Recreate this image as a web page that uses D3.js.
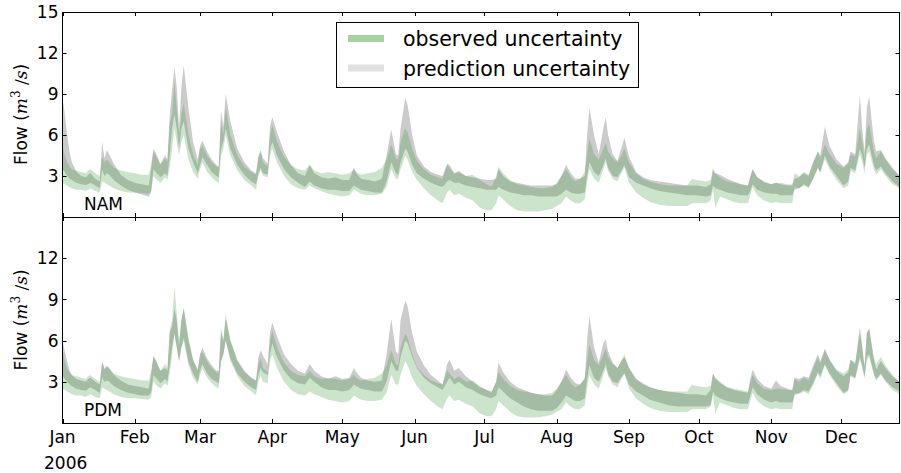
<!DOCTYPE html>
<html>
<head>
<meta charset="utf-8">
<script src="https://cdn.jsdelivr.net/npm/d3@7/dist/d3.min.js"></script>
<style>
  html, body { margin: 0; padding: 0; background: #fff; }
  svg { display: block; font-family: "DejaVu Sans", sans-serif; }
</style>
</head>
<body>
<svg id="chart" width="901" height="473"></svg>
<script>
// Day offsets from 1 Jan 2006 at which the bands are sampled
const days = [0,1,2,3,4,6,8,10,11,12,14,16,17,18,19,20,22,25,28,31,34,37,38,39,40,42,44,45,46,47,48,49,50,51,52,54,56,58,59,60,62,64,66,67,68,69,70,72,75,78,81,83,84,85,86,88,89,90,92,95,98,101,104,106,108,111,114,117,120,123,125,126,128,131,134,137,139,141,143,144,145,147,148,150,152,155,158,161,163,165,166,168,170,173,176,179,182,184,186,187,189,192,195,198,201,204,207,210,212,214,216,218,220,222,224,225,226,228,230,232,233,234,236,238,240,241,243,246,249,252,256,260,264,268,270,272,276,278,279,280,282,285,288,291,294,295,296,298,301,304,306,308,311,313,314,316,318,320,322,324,325,327,329,332,335,337,338,340,342,343,344,345,346,348,349,351,353,356,359];

// Observed flow uncertainty (shared by both models), m3/s
const obsLo = [2.5,2.4,2.3,2.2,2.1,2.0,2.0,1.9,2.0,2.1,1.9,1.8,2.6,2.5,2.4,2.3,2.1,1.9,1.8,1.8,1.75,1.7,1.9,3.0,2.8,2.5,2.9,2.7,3.6,5.0,6.5,5.5,4.5,5.5,6.0,4.2,3.3,2.8,3.5,4.0,3.3,2.9,2.6,2.5,4.5,5.0,6.0,4.5,3.4,2.7,2.3,2.0,3.0,3.4,3.0,2.9,4.5,5.0,4.0,3.0,2.4,2.1,2.0,2.3,2.1,1.9,1.7,1.6,1.5,1.6,2.0,1.9,1.7,1.6,1.6,1.7,2.2,3.5,2.8,2.8,3.5,4.5,4.2,3.3,2.7,2.1,1.6,1.2,1.0,1.8,2.0,1.6,1.7,1.4,1.2,0.7,0.5,0.5,1.0,1.6,1.3,0.8,0.5,0.4,0.4,0.4,0.5,0.6,0.8,1.0,1.5,1.2,1.0,1.0,1.3,2.5,3.5,2.8,2.5,3.5,4.0,3.4,2.8,2.6,3.3,3.6,2.5,1.8,1.4,1.1,0.9,0.8,0.8,0.8,1.0,1.0,1.0,1.2,2.0,0.7,1.5,1.3,1.1,1.0,1.0,1.6,2.2,1.6,1.2,1.0,1.1,1.0,1.0,1.0,2.2,2.1,2.3,2.1,2.8,3.6,3.2,4.2,3.5,2.7,2.1,2.3,3.4,3.2,4.6,4.0,3.2,4.6,4.8,3.5,3.1,3.5,3.0,2.4,2.1];
const obsHi = [5.2,4.5,4.0,3.7,3.5,3.4,3.3,3.2,3.4,3.5,3.2,3.0,4.4,4.0,4.2,4.0,3.6,3.4,3.3,3.2,3.1,3.1,3.8,4.8,4.5,3.8,4.3,4.0,6.8,7.5,9.9,8.0,6.0,7.5,8.3,6.0,4.6,3.8,5.0,5.2,4.5,4.0,3.7,3.6,7.0,6.0,8.0,6.0,4.5,3.7,3.3,3.1,4.3,4.7,4.0,3.7,6.0,6.7,5.5,4.4,3.8,3.5,3.4,3.8,3.4,3.2,3.3,3.2,3.1,3.2,3.5,3.3,3.1,3.2,3.3,3.6,4.2,5.3,4.3,4.2,5.5,6.5,6.2,5.0,4.1,3.5,3.1,2.9,2.8,3.8,3.6,3.2,3.4,3.0,3.1,2.7,2.4,2.2,3.0,3.7,3.2,2.7,2.4,2.3,2.2,2.1,2.1,2.2,2.5,3.0,3.5,2.9,2.6,2.8,3.3,4.5,5.7,4.6,4.2,5.0,5.4,4.8,4.3,4.0,4.6,5.0,4.0,3.2,2.8,2.6,2.4,2.3,2.3,2.3,2.8,2.7,2.6,2.7,3.6,3.2,2.9,2.6,2.5,2.4,2.3,3.0,3.5,2.9,2.5,2.4,2.5,2.5,2.4,2.4,3.2,3.0,3.3,3.1,4.0,4.8,4.3,5.3,4.6,3.9,3.6,3.9,4.6,4.4,6.5,5.5,4.2,6.5,6.8,4.8,4.3,4.8,4.2,3.5,3.0];

// NAM prediction uncertainty
const namLo = [3.5,3.3,3.0,2.8,2.7,2.5,2.4,2.35,2.4,2.5,2.3,2.1,3.5,3.0,3.2,3.1,2.7,2.3,2.0,1.8,1.65,1.5,1.8,3.5,3.3,2.9,3.2,3.0,4.5,6.5,7.5,6.5,5.0,6.5,7.0,5.0,4.0,3.2,3.8,4.4,3.8,3.3,3.0,2.9,5.0,5.5,6.5,5.0,3.8,3.1,2.6,2.4,3.2,3.6,3.2,3.1,5.0,5.5,4.5,3.5,2.9,2.5,2.2,2.6,2.3,2.1,2.0,2.0,1.9,1.9,2.3,2.2,2.0,1.9,1.8,1.8,2.6,4.0,3.2,3.1,4.0,5.0,4.8,3.8,3.2,2.8,2.5,2.3,2.2,2.6,2.7,2.5,2.5,2.3,2.2,2.1,2.0,2.0,2.0,2.2,2.0,1.8,1.7,1.6,1.6,1.5,1.5,1.5,1.5,1.7,2.0,1.8,1.7,1.7,1.8,3.0,4.0,3.3,3.0,3.8,4.3,3.6,3.0,2.9,3.5,3.8,2.9,2.5,2.3,2.1,1.9,1.8,1.7,1.6,1.6,1.6,1.5,1.6,2.3,2.1,2.0,1.8,1.7,1.6,1.6,1.9,2.4,2.0,1.8,1.7,1.7,1.6,1.6,1.6,2.0,2.1,2.4,2.2,2.8,3.6,3.3,4.5,3.7,3.0,2.3,2.6,3.6,3.4,5.0,4.5,3.6,5.0,5.3,3.8,3.4,3.7,3.2,2.6,2.2];
const namHi = [8.8,7.5,6.0,4.8,4.0,3.3,3.0,2.9,3.1,3.2,2.8,2.6,5.5,4.3,4.9,4.6,3.9,3.1,2.7,2.5,2.4,2.3,3.5,5.0,4.7,3.9,4.5,4.2,7.5,9.3,11.0,9.5,6.5,9.5,11.1,8.0,5.5,4.2,5.2,5.6,4.8,4.2,3.8,3.7,7.8,6.6,9.0,7.0,5.0,4.0,3.4,3.2,4.5,4.9,4.3,3.9,6.6,7.3,6.2,4.8,3.8,3.2,3.0,3.8,3.2,2.9,2.8,2.9,2.7,2.7,3.6,3.2,2.8,2.7,2.6,2.8,4.5,6.4,4.6,4.5,6.5,8.7,8.2,6.0,4.5,3.7,3.3,3.1,3.0,3.9,3.8,3.2,3.3,3.0,2.9,2.8,2.7,2.7,2.8,3.5,3.0,2.6,2.5,2.4,2.3,2.3,2.3,2.3,2.4,3.0,3.8,3.2,2.8,2.8,3.0,6.0,8.0,6.0,4.6,6.5,7.3,6.0,4.6,4.1,5.2,5.8,4.4,3.3,2.9,2.7,2.6,2.5,2.4,2.3,2.3,2.3,2.2,2.4,3.4,3.2,3.1,2.8,2.6,2.4,2.3,2.9,3.5,2.9,2.6,2.4,2.5,2.4,2.3,2.3,2.8,2.9,3.2,3.0,4.0,4.8,4.5,6.6,5.2,4.2,3.7,4.0,4.8,4.6,8.9,6.5,4.8,8.0,8.8,5.6,4.8,4.9,4.3,3.6,3.0];

// PDM prediction uncertainty
const pdmLo = [3.5,3.2,3.0,2.8,2.7,2.5,2.4,2.35,2.5,2.6,2.4,2.2,3.3,3.0,3.1,3.0,2.7,2.4,2.2,2.1,2.0,2.0,2.2,3.5,3.3,2.9,3.2,3.0,4.2,5.5,6.5,5.5,4.5,5.5,6.2,4.5,3.6,3.0,3.8,4.3,3.6,3.2,3.0,2.9,4.5,5.0,6.0,4.7,3.6,3.0,2.6,2.4,3.5,4.0,3.7,3.5,5.0,5.8,4.8,3.8,3.2,2.9,2.8,3.3,3.0,2.6,2.4,2.4,2.3,2.4,2.8,2.7,2.5,2.4,2.3,2.3,3.0,4.5,3.8,3.8,4.8,6.0,5.8,4.8,4.0,3.3,2.9,2.6,2.4,3.0,3.3,2.8,3.0,2.6,2.4,2.1,1.9,1.8,2.0,2.6,2.3,1.8,1.5,1.2,1.0,0.9,0.9,0.9,1.1,1.5,2.0,1.8,1.6,1.6,1.8,3.2,4.2,3.3,3.0,3.8,4.3,3.6,3.0,2.9,3.4,3.6,2.8,2.3,2.0,1.7,1.5,1.3,1.2,1.2,1.2,1.2,1.2,1.3,2.3,2.0,1.8,1.6,1.5,1.4,1.4,2.0,2.6,2.1,1.7,1.5,1.6,1.5,1.5,1.5,2.0,2.2,2.4,2.3,2.9,3.7,3.4,4.3,3.6,2.9,2.2,2.4,3.5,3.3,4.8,4.2,3.4,4.8,5.0,3.6,3.2,3.6,3.1,2.6,2.3];
const pdmHi = [6.0,5.2,4.5,3.8,3.5,3.2,3.1,3.0,3.2,3.3,3.0,2.8,4.5,3.9,4.1,4.0,3.5,3.1,2.8,2.7,2.6,2.5,3.5,4.9,4.6,3.8,4.0,3.8,6.6,7.0,8.3,7.5,5.6,7.5,8.4,6.2,4.6,3.9,5.0,5.5,4.7,4.2,3.8,3.8,6.6,6.0,7.6,6.0,4.6,3.8,3.3,3.1,4.8,5.3,4.9,4.3,6.6,7.3,6.3,5.0,4.3,3.8,3.6,4.3,3.8,3.4,3.2,3.4,3.2,3.3,4.0,3.7,3.3,3.1,3.0,3.1,5.0,7.6,5.2,5.0,7.5,8.9,8.5,6.5,5.2,4.2,3.5,3.1,2.8,4.3,4.6,3.8,4.0,3.4,3.0,2.6,2.4,2.3,3.0,4.4,3.7,3.0,2.6,2.4,2.2,2.1,2.0,2.0,2.4,3.0,3.9,3.3,2.9,2.8,3.2,6.0,7.8,5.5,4.4,5.8,6.1,5.2,4.4,4.0,4.6,4.8,4.0,3.2,2.9,2.6,2.4,2.3,2.2,2.1,2.1,2.1,2.0,2.4,3.6,3.3,3.0,2.6,2.4,2.3,2.2,3.2,3.9,3.2,2.7,2.5,3.1,2.7,2.5,2.4,3.3,3.2,3.4,3.3,4.2,5.0,4.5,5.4,4.6,3.8,3.4,3.7,4.6,4.3,7.0,5.6,4.0,6.6,6.9,4.6,3.9,4.5,4.0,3.4,3.0];

const monthLabels = ["Jan","Feb","Mar","Apr","May","Jun","Jul","Aug","Sep","Oct","Nov","Dec"];
const yTicksTop = [3, 6, 9, 12, 15];
const yTicksBottom = [3, 6, 9, 12];
const panelNames = ["NAM", "PDM"];
const legendLabels = ["observed uncertainty", "prediction uncertainty"];

const start = new Date(2006, 0, 1);
const dates = days.map(d => d3.timeDay.offset(start, d));

const svg = d3.select("#chart");
const left = 62.5, right = 899.5;
const x = d3.scaleTime()
  .domain([start, d3.timeDay.offset(start, 359)])
  .range([left, right]);

const panels = [
  { name: panelNames[0], lo: namLo, hi: namHi, top: 12, bottom: 217, ticks: yTicksTop },
  { name: panelNames[1], lo: pdmLo, hi: pdmHi, top: 217, bottom: 423, ticks: yTicksBottom }
];

const grayFill = "#cbcbcb";
const greenFill = "rgba(34,139,34,0.23)";
const monthTicks = d3.timeMonth.range(start, d3.timeDay.offset(start, 360));

panels.forEach((p, i) => {
  const y = d3.scaleLinear().domain([0, 15]).range([p.bottom, p.top]);
  const g = svg.append("g");

  const predArea = d3.area()
    .x((d, k) => x(dates[k]))
    .y0((d, k) => y(p.lo[k]))
    .y1((d, k) => y(p.hi[k]));
  const obsArea = d3.area()
    .x((d, k) => x(dates[k]))
    .y0((d, k) => y(obsLo[k]))
    .y1((d, k) => y(obsHi[k]));

  g.append("path").datum(days).attr("d", predArea).attr("fill", grayFill);
  g.append("path").datum(days).attr("d", obsArea).attr("fill", greenFill);

  // frame
  g.append("rect")
    .attr("x", left).attr("y", p.top + 0.5)
    .attr("width", right - left).attr("height", p.bottom - p.top)
    .attr("fill", "none").attr("stroke", "#000").attr("stroke-width", 1);

  // inward ticks on all four sides
  const tk = g.append("g").attr("stroke", "#000").attr("stroke-width", 1);
  monthTicks.forEach(m => {
    const xx = Math.round(x(m)) + 0.5;
    tk.append("line").attr("x1", xx).attr("x2", xx).attr("y1", p.bottom).attr("y2", p.bottom - 4);
    tk.append("line").attr("x1", xx).attr("x2", xx).attr("y1", p.top).attr("y2", p.top + 4);
  });
  [3, 6, 9, 12].forEach(v => {
    const yy = Math.round(y(v)) + 0.5;
    tk.append("line").attr("x1", left).attr("x2", left + 4).attr("y1", yy).attr("y2", yy);
    tk.append("line").attr("x1", right).attr("x2", right - 4).attr("y1", yy).attr("y2", yy);
  });

  // y tick labels
  g.append("g").selectAll("text").data(p.ticks).join("text")
    .attr("x", left - 4).attr("y", v => y(v))
    .attr("dy", "0.36em")
    .attr("text-anchor", "end")
    .attr("font-size", 17)
    .text(v => v);

  // y axis title
  const ty = g.append("text")
    .attr("transform", `translate(27,${(p.top + p.bottom) / 2}) rotate(-90)`)
    .attr("text-anchor", "middle")
    .attr("font-size", 17);
  ty.append("tspan").text("Flow (");
  ty.append("tspan").attr("font-family", "DejaVu Serif, serif").attr("font-style", "italic").text("m");
  ty.append("tspan").attr("font-family", "DejaVu Serif, serif").attr("font-size", 12).attr("dy", -7).text("3");
  ty.append("tspan").attr("dy", 7).attr("font-family", "DejaVu Serif, serif").text(" /");
  ty.append("tspan").attr("font-family", "DejaVu Serif, serif").attr("font-style", "italic").text("s");
  ty.append("tspan").text(")");

  // model name
  g.append("text")
    .attr("x", 84).attr("y", p.bottom - 7)
    .attr("font-size", 17)
    .text(p.name);
});

// month labels under the lower panel
svg.append("g").selectAll("text").data(monthTicks).join("text")
  .attr("x", d => x(d)).attr("y", 443)
  .attr("text-anchor", "middle")
  .attr("font-size", 17)
  .text((d, i) => monthLabels[i]);
svg.append("text").attr("x", 44).attr("y", 469).attr("font-size", 17).text("2006");

// legend
const lg = svg.append("g");
lg.append("rect").attr("x", 336.5).attr("y", 22.5).attr("width", 302).attr("height", 65)
  .attr("fill", "#fff").attr("stroke", "#000").attr("stroke-width", 1);
const swatchColors = ["#a6d4a0", "#e0e0e0"];
[38.5, 68].forEach((yy, i) => {
  lg.append("line").attr("x1", 348).attr("x2", 384).attr("y1", yy).attr("y2", yy)
    .attr("stroke", swatchColors[i]).attr("stroke-width", 7);
  lg.append("text").attr("x", 403).attr("y", yy + 7.5).attr("font-size", 20.5).text(legendLabels[i]);
});
</script>
</body>
</html>
